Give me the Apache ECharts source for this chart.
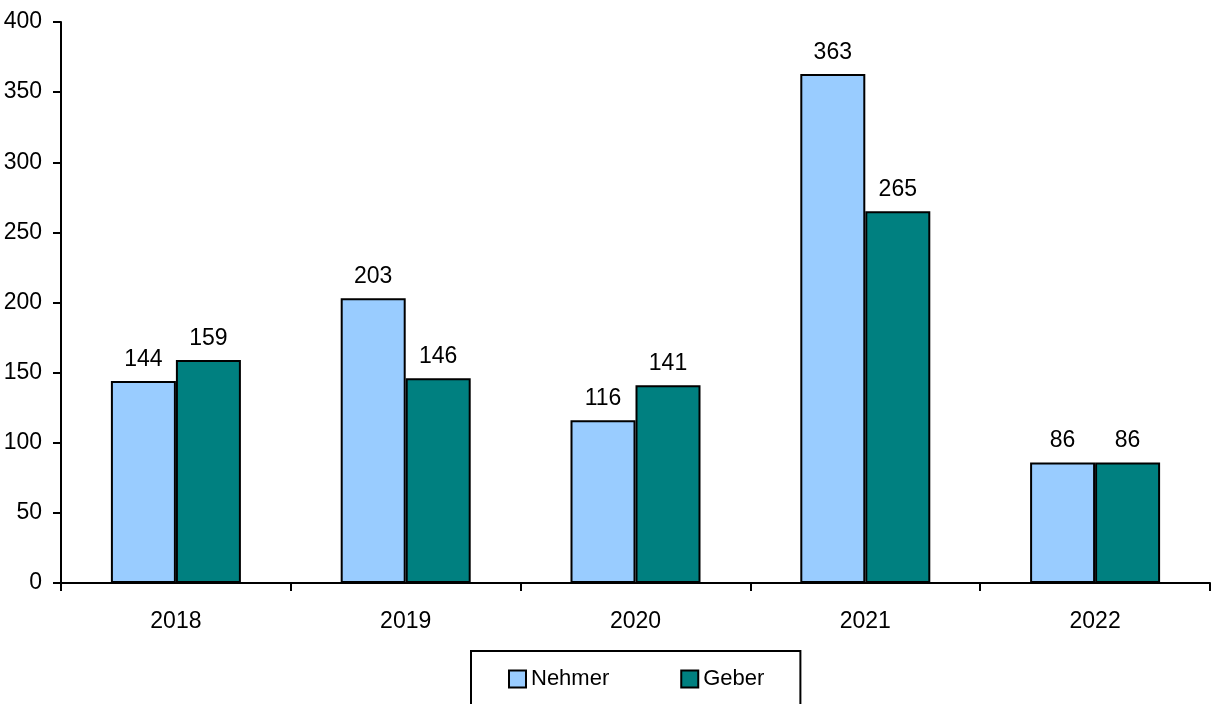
<!DOCTYPE html>
<html>
<head>
<meta charset="utf-8">
<script src="https://cdn.jsdelivr.net/npm/echarts@6/dist/echarts.min.js"></script>
<style>
html,body{margin:0;padding:0;background:#fff;}
#chart{width:1212px;height:704px;}
</style>
</head>
<body>
<div id="chart"></div>
<script>
const categories = ['2018', '2019', '2020', '2021', '2022'];
const nehmer = [144, 203, 116, 363, 86];
const geber = [159, 146, 141, 265, 86];
const yTicks = { min: 0, max: 400, interval: 50 };

const FONT = '"Liberation Sans", Arial, sans-serif';
const chart = echarts.init(document.getElementById('chart'), null, { renderer: 'canvas' });
const labelStyle = { show: true, position: 'top', distance: 10, color: '#000', fontFamily: FONT, fontSize: 23 };
chart.setOption({
  animation: false,
  backgroundColor: '#fff',
  grid: { left: 61, right: 2, top: 22, bottom: 121, containLabel: false },
  legend: {
    data: ['Nehmer', 'Geber'],
    left: 471, top: 651,
    orient: 'horizontal',
    padding: [17, 36, 17, 37],
    borderColor: '#000', borderWidth: 2,
    itemWidth: 17, itemHeight: 17, itemGap: 71, itemTextGap: 6,
    icon: 'rect',
    itemStyle: { borderColor: '#000', borderWidth: 2 },
    textStyle: { color: '#000', fontFamily: FONT, fontSize: 22 }
  },
  xAxis: {
    type: 'category', data: categories,
    axisLine: { lineStyle: { color: '#000', width: 2 } },
    axisTick: { show: true, length: 8, lineStyle: { color: '#000', width: 2 } },
    axisLabel: { color: '#000', fontFamily: FONT, fontSize: 23, margin: 27 },
    splitLine: { show: false }
  },
  yAxis: {
    type: 'value', min: yTicks.min, max: yTicks.max, interval: yTicks.interval,
    axisLine: { show: true, lineStyle: { color: '#000', width: 2 } },
    axisTick: { show: true, length: 8, lineStyle: { color: '#000', width: 2 } },
    axisLabel: { color: '#000', fontFamily: FONT, fontSize: 23, margin: 19 },
    splitLine: { show: false }
  },
  series: [
    { name: 'Nehmer', type: 'bar', data: nehmer, barWidth: 65, barGap: '0%',
      itemStyle: { color: '#99CCFF', borderColor: '#000', borderWidth: 2 }, label: labelStyle },
    { name: 'Geber', type: 'bar', data: geber, barWidth: 65, barGap: '0%',
      itemStyle: { color: '#008080', borderColor: '#000', borderWidth: 2 }, label: labelStyle }
  ]
});
</script>
</body>
</html>
